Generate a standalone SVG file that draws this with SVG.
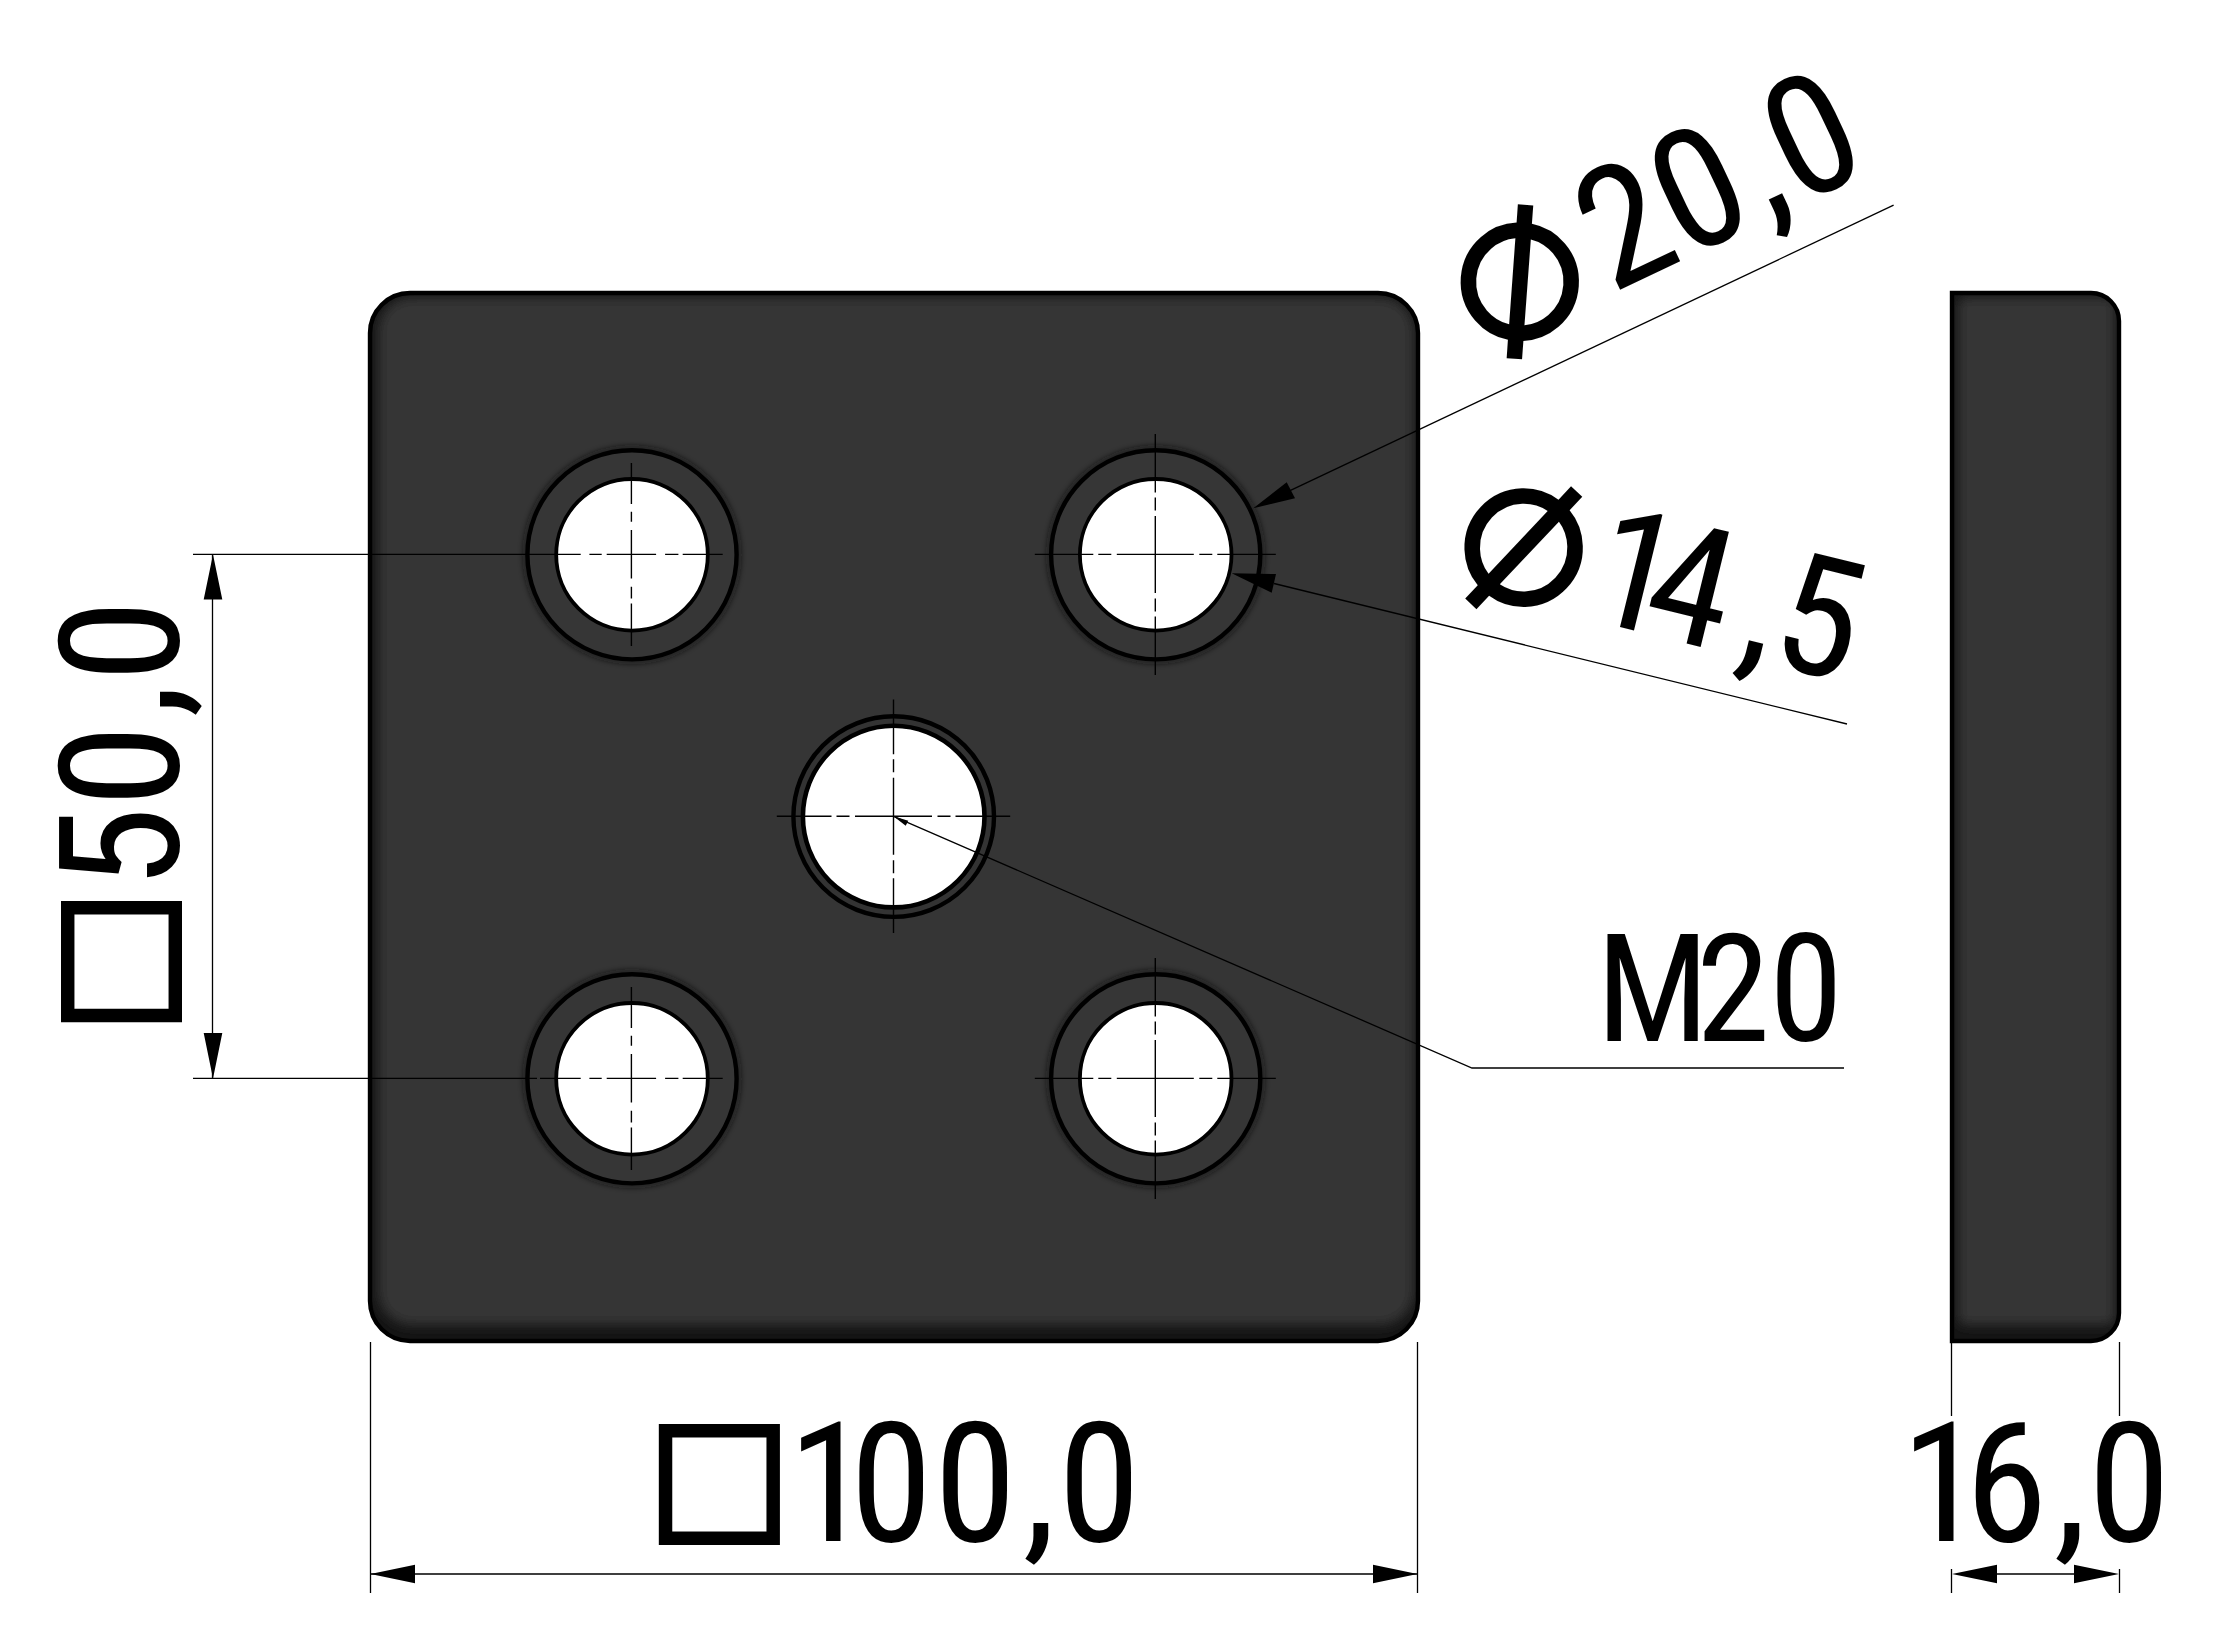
<svg xmlns="http://www.w3.org/2000/svg" xmlns:xlink="http://www.w3.org/1999/xlink" width="2213" height="1648" viewBox="0 0 2213 1648">
<style>
.ln{fill:none;stroke:#000;stroke-width:1.3}
.cl{fill:none;stroke:#000;stroke-width:1.4}
.edge{stroke:#000;stroke-width:4.4}
.ar{fill:#000}
.t{font-family:"Roboto","Liberation Sans",sans-serif;font-size:167px;font-stretch:75%;fill:#000}
.s{font-family:"DejaVu Sans",sans-serif;font-size:152px;font-stretch:100%;stroke:#000;stroke-width:5}
.o{font-family:"DejaVu Sans",sans-serif;font-size:226px;font-stretch:100%}
.m{font-size:150px}
</style>
<defs>
<clipPath id="pc"><rect x="370" y="293" width="1048" height="1048" rx="40"/></clipPath>
<clipPath id="sc"><path d="M1952 293H2091A28 28 0 0 1 2119 321V1313A28 28 0 0 1 2091 1341H1952Z"/></clipPath>
<filter id="b6" x="-10%" y="-10%" width="120%" height="120%"><feGaussianBlur stdDeviation="6"/></filter>
<filter id="b2" x="-20%" y="-20%" width="140%" height="140%"><feGaussianBlur stdDeviation="2.5"/></filter>
<path id="cross-a" d="M-120.5 0H-62M-57 0H-44M-38.5 0H38.5M44 0H57M62 0H120.5M0 -120.5V-62M0 -57V-44M0 -38.5V38.5M0 44V57M0 62V120.5"/>
<path id="cross-b" d="M-42 0H-29.7M-24.7 0H24.7M33.7 0H47M51.3 0H91.3M0 -91.5V-50.3M0 -42.7V-32.7M0 -24.3V24M0 32.3V44M0 49V91.7"/>
<path id="cross-c" d="M-116.7 0H-62M-57 0H-44M-38.5 0H38.5M44 0H57M62 0H116.7M0 -116.7V-62M0 -57V-44M0 -38.5V38.5M0 44V57M0 62V116.7"/>
<g id="hole">
<circle r="107" fill="none" stroke="#111" stroke-width="5" filter="url(#b2)" opacity=".6"/>
<circle r="104.6" fill="#363636" class="edge"/>
<circle r="75.8" fill="#fff" stroke="#000" stroke-width="3.8"/>
</g>
</defs>
<rect width="2213" height="1648" fill="#fff"/>
<g id="plate">
<rect x="370" y="293" width="1048" height="1048" rx="40" fill="#141414"/>
<g clip-path="url(#pc)"><rect x="378" y="297" width="1036" height="1028" rx="34" fill="#363636" filter="url(#b6)"/></g>
<rect x="370" y="293" width="1048" height="1048" rx="40" fill="none" class="edge"/>
</g>
<g id="side-view">
<path d="M1952 293H2091A28 28 0 0 1 2119 321V1313A28 28 0 0 1 2091 1341H1952Z" fill="#141414"/>
<g clip-path="url(#sc)"><rect x="1958" y="297" width="157" height="1028" rx="8" fill="#363636" filter="url(#b6)"/></g>
<path d="M1952 293H2091A28 28 0 0 1 2119 321V1313A28 28 0 0 1 2091 1341H1952Z" fill="none" class="edge"/>
</g>
<g id="hole-tl"><use xlink:href="#hole" x="632" y="554.8"/><use xlink:href="#cross-b" x="631.4" y="554.4" class="cl"/></g>
<g id="hole-tr"><use xlink:href="#hole" x="1155.7" y="554.8"/><use xlink:href="#cross-a" x="1155.3" y="554.4" class="cl"/></g>
<g id="hole-bl"><use xlink:href="#hole" x="632" y="1078.8"/><use xlink:href="#cross-b" x="631.4" y="1078.4" class="cl"/></g>
<g id="hole-br"><use xlink:href="#hole" x="1155.7" y="1078.8"/><use xlink:href="#cross-a" x="1155.3" y="1078.4" class="cl"/></g>
<g id="hole-center">
<circle cx="893.7" cy="816.6" r="100.3" fill="#333" class="edge"/>
<circle cx="893.7" cy="816.6" r="90.8" fill="#fff" stroke="#000" stroke-width="4.6"/>
<use xlink:href="#cross-c" x="893.5" y="816.3" class="cl"/>
</g>
<g id="connectors">
<path class="ln" d="M370.5 1342V1593M1417.5 1342V1593M370.5 1574H1417.5"/>
<path class="ar" d="M370.5 1574L415 1564.7V1583.3ZM1417.5 1574L1373 1564.7V1583.3Z"/>
<path class="ln" d="M1951.5 1342V1416M1951.5 1569V1593M2119.5 1342V1416M2119.5 1569V1593M1997 1574H2074"/>
<path class="ar" d="M1952 1574L1997 1564.7V1583.3ZM2119 1574L2074 1564.7V1583.3Z"/>
<path class="ln" d="M193 554.4H580.7M193 1078.4H537M540 1078.4H580.7M212.5 554.4V1078.4"/>
<path class="ar" d="M213 554.4L203.7 599.5H222.3ZM213 1078.4L203.7 1033H222.3Z"/>
<path class="ln" d="M1290 490.6L1893.6 205.2"/>
<path class="ar" d="M1253.3 508.3L1286.7 482.3L1295 498.3Z"/>
<path class="ln" d="M1274 583.5L1847 724"/>
<path class="ar" d="M1231.7 573.3L1276 574L1271.7 592.7Z"/>
<path class="ln" d="M893.5 816.3L1472 1068H1844"/>
<path class="ar" d="M893.5 816.3L908.3 820.7L905.7 825.7Z"/>
</g>
<g id="labels">
<g id="label-100" transform="translate(659 1541)"><text class="t"><tspan class="s" x="-11.5" y="-17">□</tspan><tspan x="129" y="0">1</tspan><tspan x="191">0</tspan><tspan x="275">0</tspan><tspan x="364">,</tspan><tspan x="399">0</tspan></text></g>
<g id="label-16" transform="translate(1900 1541)"><text class="t"><tspan x="1">1</tspan><tspan x="65">6</tspan><tspan x="154">,</tspan><tspan x="188">0</tspan></text></g>
<g id="label-50" transform="translate(178 1022) rotate(-90)"><text class="t"><tspan class="s" x="-11.5" y="-17">□</tspan><tspan x="133" y="0">5</tspan><tspan x="215">0</tspan><tspan x="305">,</tspan><tspan x="340">0</tspan></text></g>
<g id="label-20" transform="translate(1491.2 350.7) rotate(-25.3)"><text class="t"><tspan class="o" x="4.7" y="22.1" rotate="-15.5">⌀</tspan><tspan x="133" y="0">2</tspan><tspan x="215">0</tspan><tspan x="305">,</tspan><tspan x="340">0</tspan></text></g>
<g id="label-14" transform="translate(1454.8 586.6) rotate(13.8)"><text class="t"><tspan class="o" x="7" y="18" rotate="-15.5">⌀</tspan><tspan x="132" y="0">1</tspan><tspan x="189">4</tspan><tspan x="288">,</tspan><tspan x="321">5</tspan></text></g>
<g id="label-m20"><text class="t m" x="1596" y="1040.5">M<tspan x="1696">2</tspan><tspan x="1769">0</tspan></text></g>
</g>
</svg>
